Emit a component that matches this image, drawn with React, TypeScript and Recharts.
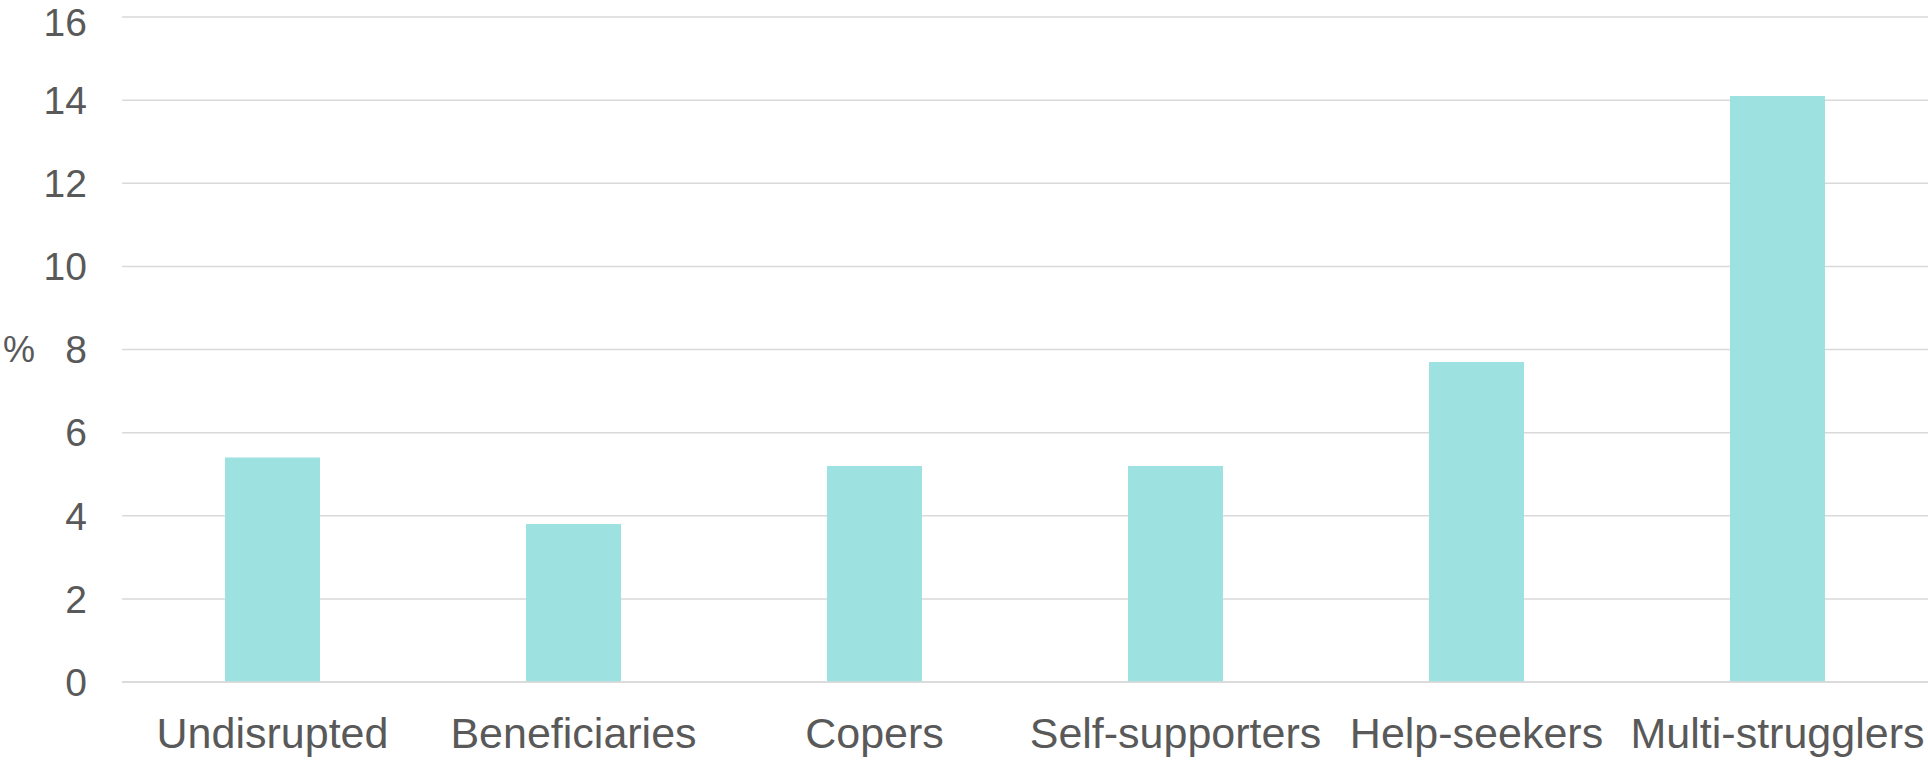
import React from 'react';
import { BarChart, Bar, XAxis, YAxis, CartesianGrid } from 'recharts';

const categories = ['Undisrupted', 'Beneficiaries', 'Copers', 'Self-supporters', 'Help-seekers', 'Multi-strugglers'];
const values = [5.4, 3.8, 5.2, 5.2, 7.7, 14.1];
const yTicks = [0, 2, 4, 6, 8, 10, 12, 14, 16];
const yLabel = '%';

const data = categories.map((c, i) => ({ name: c, value: values[i] }));

const FONT = '"Liberation Sans", Arial, Helvetica, sans-serif';
const TEXT = '#595959';

export default function App() {
  return (
    <div style={{ position: 'absolute', left: 0, top: 0, width: 1928, height: 760, background: '#fff' }}>
      <BarChart
        width={1928}
        height={760}
        data={data}
        margin={{ top: 17, right: 0, bottom: 0, left: 0 }}
        barSize={95}
      >
        <CartesianGrid vertical={false} stroke="#d9d9d9" strokeWidth={1.5} />
        <XAxis
          dataKey="name"
          height={78}
          axisLine={{ stroke: '#d9d9d9', strokeWidth: 1.5 }}
          tickLine={false}
          tickSize={0}
          tickMargin={35}
          interval={0}
          tick={{ fill: TEXT, fontSize: 43, fontFamily: FONT }}
        />
        <YAxis
          width={122}
          domain={[0, 16]}
          ticks={yTicks}
          axisLine={false}
          tickLine={false}
          tickSize={0}
          tickMargin={35}
          tick={{ fill: TEXT, fontSize: 39, fontFamily: FONT }}
          label={{ value: yLabel, position: 'insideLeft', offset: 3, angle: 0, fill: TEXT, fontSize: 36, fontFamily: FONT }}
        />
        <Bar dataKey="value" fill="#9de1e0" isAnimationActive={false} />
      </BarChart>
    </div>
  );
}
